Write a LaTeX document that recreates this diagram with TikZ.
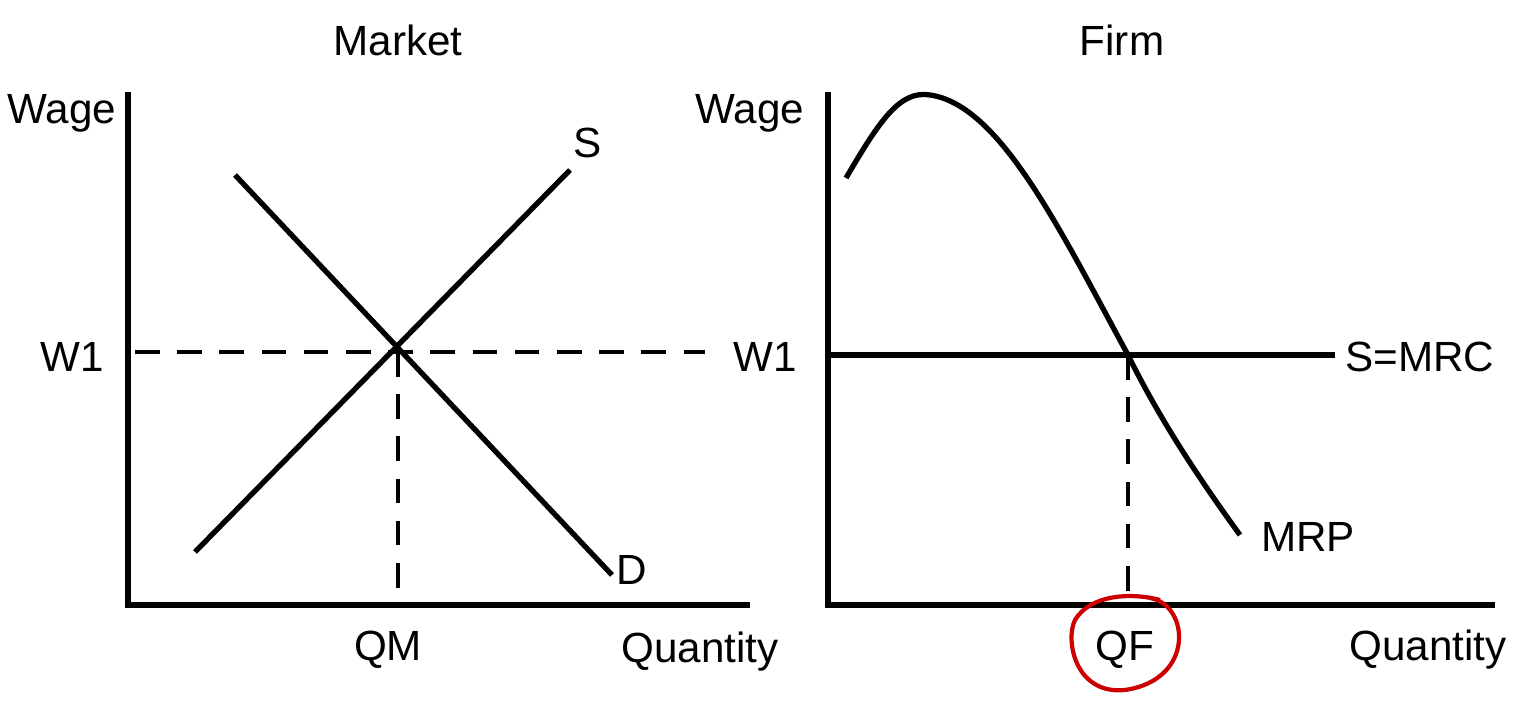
\documentclass[tikz,border=0pt]{standalone}
\usepackage{fontspec}
\setmainfont{Liberation Sans}
\usetikzlibrary{positioning}
\tikzset{
	curve/.style = {line width=1.5pt},
	guide/.style = {line width=1.1pt, dashed, dash pattern=on 7pt off 5pt},
	lbl/.style = {font=\fontsize{12}{14}\selectfont, inner sep=1pt}
}

\begin{document}
\begin{tikzpicture}[x=0.01cm, y=-0.01cm]
	\useasboundingbox (0,0) rectangle (1530,701);
	% ====== Market ========
	\coordinate (MO) at (128,605);
	\coordinate (MY) at (128,92);
	\coordinate (MX) at (750,605);
	\coordinate (E) at (397,350);
	\node[lbl] (mtitle) at (398,40) {Market};
	\node[lbl] (mwage) at (62,113) {Wage};
	\node[lbl] (mw1) at (72,357) {W1};
	\node[lbl] (qm) at (388,650) {QM};
	\node[lbl] (mq) at (700,652) {Quantity};
	\node[lbl] (sl) at (588,143) {S};
	\node[lbl] (dl) at (632,570) {D};
	\coordinate (S0) at (195,552);
	\coordinate (S1) at (570,170);
	\coordinate (D0) at (235,175);
	\coordinate (D1) at (612,575);
	\coordinate (W1r) at (705,352);
	\draw[curve] (MY) -- (MO) -- (MX);
	\draw[curve] (S0) -- (S1);
	\draw[curve] (D0) -- (D1);
	\draw[guide] (135,352) -- (W1r);
	\draw[guide] (398,352) -- (398,605);
	% ====== Firm ========
	\coordinate (FO) at (828,605);
	\coordinate (FY) at (828,92);
	\coordinate (FX) at (1495,605);
	\coordinate (F) at (1128,355);
	\node[lbl] (ftitle) at (1122,40) {Firm};
	\node[lbl] (fwage) at (750,113) {Wage};
	\node[lbl] (fw1) at (765,357) {W1};
	\node[lbl] (mrc) at (1420,357) {S=MRC};
	\node[lbl] (mrp) at (1308,537) {MRP};
	\node[lbl] (qf) at (1125,650) {QF};
	\node[lbl] (fq) at (1428,650) {Quantity};
	\draw[curve] (FY) -- (FO) -- (FX);
	\draw[curve] (828,355) -- (1335,355);
	\draw[curve] (846,178) .. controls (880,120) and (900,90) .. (930,95)
		.. controls (1000,105) and (1060,230) .. (F)
		.. controls (1160,420) and (1200,480) .. (1240,535);
	\draw[guide] (F) -- (1128,600);
	\draw[red!80!black, line width=1.2pt] (1150,598) .. controls (1190,605) and (1195,680) .. (1125,690)
		.. controls (1075,695) and (1065,640) .. (1075,620)
		.. controls (1090,595) and (1130,592) .. (1160,600);
\end{tikzpicture}
\end{document}
